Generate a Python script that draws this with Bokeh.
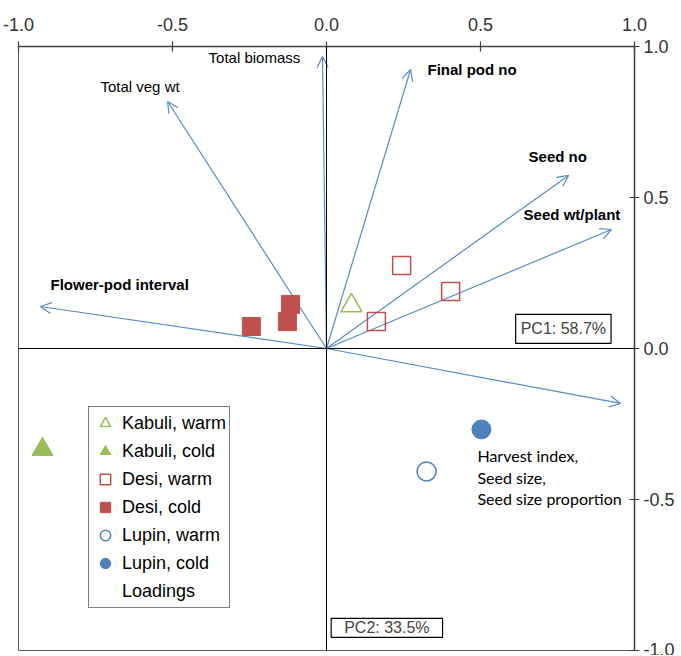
from bokeh.plotting import figure
from bokeh.models import (ColumnDataSource, Arrow, OpenHead, Label, Span, Legend,
                          LegendItem, FixedTicker, NumeralTickFormatter, Range1d)
from bokeh.embed import file_html
from bokeh.resources import INLINE

# ---- scores ----
kabuli_warm_x = [0.081]
kabuli_warm_y = [0.142]
kabuli_cold_x = [-0.922]
kabuli_cold_y = [-0.334]
desi_warm_x = [0.244, 0.403, 0.162]
desi_warm_y = [0.275, 0.189, 0.089]
desi_cold_x = [-0.244, -0.117, -0.127]
desi_cold_y = [0.073, 0.146, 0.089]
lupin_warm_x = [0.325]
lupin_warm_y = [-0.407]
lupin_cold_x = [0.503]
lupin_cold_y = [-0.268]

# ---- loadings ----
loading_names = ["Total biomass", "Total veg wt", "Final pod no", "Seed no",
                 "Seed wt/plant", "Flower-pod interval",
                 "Harvest index,|Seed size,|Seed size proportion"]
loading_x = [-0.013, -0.516, 0.273, 0.786, 0.925, -0.929, 0.955]
loading_y = [0.967, 0.818, 0.924, 0.573, 0.394, 0.139, -0.182]

tick_values = [-1.0, -0.5, 0.0, 0.5, 1.0]
pc1_label = "PC1: 58.7%"
pc2_label = "PC2: 33.5%"

GREEN = "#9BBB59"
RED = "#C0504D"
BLUE = "#4F81BD"
ARROW = "#5A8AC8"
FONT = "Liberation Sans"

p = figure(x_range=Range1d(-1, 1), y_range=Range1d(-1, 1),
           x_axis_location="above", y_axis_location="right",
           frame_width=616, frame_height=604,
           min_border_left=18, min_border_right=46, min_border_top=46, min_border_bottom=5,
           output_backend="svg", toolbar_location=None)
p.xgrid.visible = False
p.ygrid.visible = False
p.outline_line_color = "#595959"
p.outline_line_width = 1
p.background_fill_color = "white"
p.border_fill_color = "white"

for ax in (p.xaxis[0], p.yaxis[0]):
    ax.ticker = FixedTicker(ticks=tick_values)
    ax.formatter = NumeralTickFormatter(format="0.0")
    ax.axis_line_color = "#404040"
    ax.axis_line_width = 1.5
    ax.major_tick_line_color = "#404040"
    ax.major_tick_line_width = 1.2
    ax.major_tick_in = 5
    ax.major_tick_out = 5
    ax.minor_tick_line_color = None
    ax.major_label_text_font = FONT
    ax.major_label_text_font_size = "18px"
    ax.major_label_text_color = "#333333"
p.xaxis[0].major_label_standoff = 11
p.yaxis[0].major_label_standoff = 4

p.add_layout(Span(location=0, dimension="width", line_color="black", line_width=1))
p.add_layout(Span(location=0, dimension="height", line_color="black", line_width=1))

# loading arrows
src = ColumnDataSource(dict(x0=[0.0] * len(loading_x), y0=[0.0] * len(loading_y),
                            x1=loading_x, y1=loading_y))
p.add_layout(Arrow(source=src, x_start="x0", y_start="y0", x_end="x1", y_end="y1",
                   line_color=ARROW, line_width=1.2, level="underlay",
                   end=OpenHead(size=11, line_color=ARROW, line_width=1.2)))

# scores
r_kw = p.scatter(kabuli_warm_x, kabuli_warm_y, marker="triangle", size=21,
                 fill_color=None, line_color=GREEN, line_width=1.5)
r_kc = p.scatter(kabuli_cold_x, kabuli_cold_y, marker="triangle", size=21,
                 fill_color=GREEN, line_color=GREEN)
r_dw = p.scatter(desi_warm_x, desi_warm_y, marker="square", size=18,
                 fill_color=None, line_color=RED, line_width=1.5)
r_dc = p.scatter(desi_cold_x, desi_cold_y, marker="square", size=18,
                 fill_color=RED, line_color=RED)
r_lw = p.scatter(lupin_warm_x, lupin_warm_y, marker="circle", size=19,
                 fill_color=None, line_color=BLUE, line_width=1.5)
r_lc = p.scatter(lupin_cold_x, lupin_cold_y, marker="circle", size=19,
                 fill_color=BLUE, line_color=BLUE)
r_ld = p.scatter([], [], marker="circle", size=1, fill_alpha=0, line_alpha=0)

# loading labels (placement in data units)
label_pos = [(-0.383, 0.963, "normal"), (-0.734, 0.867, "normal"),
             (0.328, 0.924, "bold"), (0.656, 0.635, "bold"),
             (0.640, 0.445, "bold"), (-0.896, 0.213, "bold")]
for name, (lx, ly, style) in zip(loading_names[:6], label_pos):
    p.add_layout(Label(x=lx, y=ly, text=name, text_align="left", text_baseline="middle",
                       text_font=FONT, text_font_size="15px", text_font_style=style,
                       text_color="black"))
for line, ly in zip(loading_names[6].split("|"), [-0.355, -0.428, -0.498]):
    p.add_layout(Label(x=0.490, y=ly, text=line, text_align="left", text_baseline="middle",
                       text_font="Lato", text_font_size="16px", text_color="black"))

p.add_layout(Label(x=0.769, y=0.065, text=pc1_label, text_align="center",
                   text_baseline="middle", text_font=FONT, text_font_size="16px",
                   border_line_color="black", border_line_width=1.2,
                   background_fill_color="white", padding=(5, 6)))
p.add_layout(Label(x=0.196, y=-0.925, text=pc2_label, text_align="center",
                   text_baseline="middle", text_font=FONT, text_font_size="16px",
                   border_line_color="black", border_line_width=1.2,
                   background_fill_color="white", padding=(13, 1)))

legend = Legend(items=[
    LegendItem(label="Kabuli, warm", renderers=[r_kw]),
    LegendItem(label="Kabuli, cold", renderers=[r_kc]),
    LegendItem(label="Desi, warm", renderers=[r_dw]),
    LegendItem(label="Desi, cold", renderers=[r_dc]),
    LegendItem(label="Lupin, warm", renderers=[r_lw]),
    LegendItem(label="Lupin, cold", renderers=[r_lc]),
    LegendItem(label="Loadings", renderers=[r_ld]),
], location=(70, 42), padding=3, spacing=2, glyph_height=26, glyph_width=26,
   label_height=26, label_standoff=4, label_text_font=FONT, label_text_font_size="18px",
   label_text_color="black", border_line_color="black", border_line_width=1,
   background_fill_color="white", background_fill_alpha=1)
p.add_layout(legend)

open("out.html", "w").write(file_html(p, INLINE))
